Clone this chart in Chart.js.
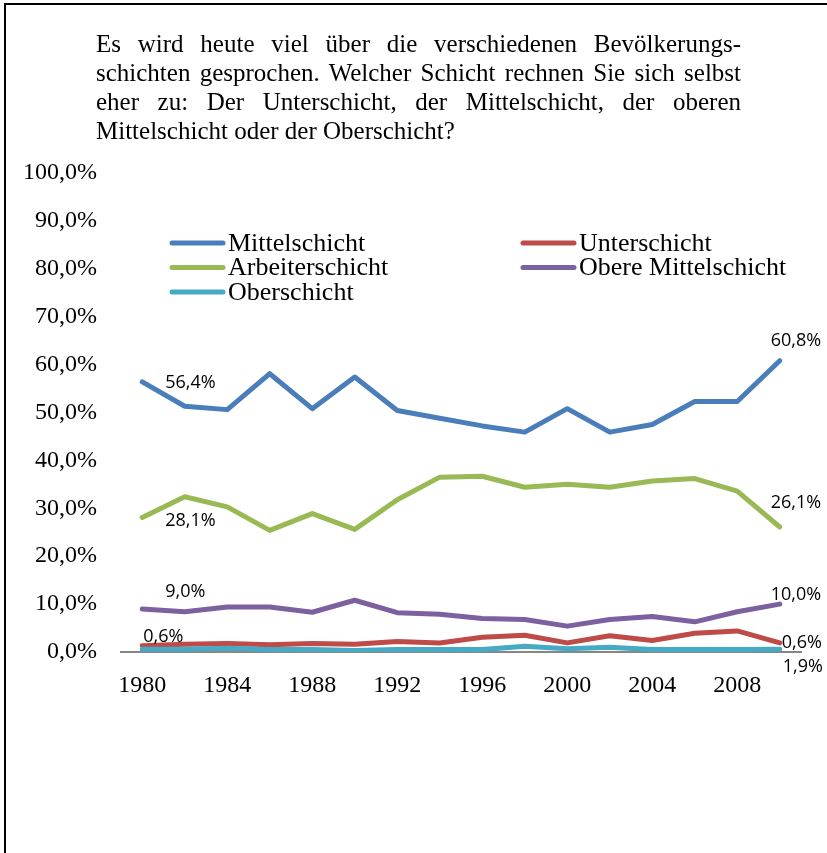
<!DOCTYPE html>
<html>
<head>
<meta charset="utf-8">
<script src="https://cdn.jsdelivr.net/npm/chart.js@4.4.1/dist/chart.umd.min.js"></script>
<style>
  html, body { margin: 0; padding: 0; background: #fff; }
  #page { position: relative; width: 827px; height: 853px; overflow: hidden; }
  #frame { position: absolute; left: 4px; top: 3px; width: 900px; height: 900px;
    border-top: 2px solid #000; border-left: 2px solid #000; pointer-events: none; }
  #title { position: absolute; left: 96px; top: 29px; width: 645px;
    font-family: 'Liberation Serif', 'Times New Roman', serif; font-size: 25px;
    line-height: 29px; color: #000; }
  #title div { white-space: nowrap; text-align: justify; text-align-last: justify; }
  #title div.last { text-align-last: left; }
  #wrap { position: absolute; left: 0; top: 0; width: 827px; height: 853px; }
</style>
</head>
<body>
<div id="page">
  <div id="wrap"><canvas id="chart"></canvas></div>
  <div id="title">
    <div>Es wird heute viel über die verschiedenen Bevölkerungs-</div>
    <div>schichten gesprochen. Welcher Schicht rechnen Sie sich selbst</div>
    <div>eher zu: Der Unterschicht, der Mittelschicht, der oberen</div>
    <div class="last">Mittelschicht oder der Oberschicht?</div>
  </div>
  <div id="frame"></div>
</div>
<script>
// years of the survey
const years = ['1980', '1982', '1984', '1986', '1988', '1990', '1992', '1994',
  '1996', '1998', '2000', '2002', '2004', '2006', '2008', '2010']

// shares in percent
const mittelschicht = [56.4, 51.3, 50.6, 58.1, 50.8, 57.4, 50.4, 48.8, 47.2, 45.9, 50.8, 45.9, 47.5, 52.3, 52.3, 60.8]
const unterschicht = [1.3, 1.6, 1.8, 1.5, 1.8, 1.6, 2.2, 1.9, 3.1, 3.5, 1.9, 3.4, 2.4, 3.9, 4.4, 1.9]
const arbeiterschicht = [28.1, 32.4, 30.3, 25.4, 28.9, 25.6, 31.8, 36.5, 36.7, 34.4, 35.0, 34.4, 35.7, 36.2, 33.6, 26.1]
const obereMittelschicht = [9.0, 8.4, 9.4, 9.4, 8.3, 10.8, 8.2, 7.9, 7.0, 6.8, 5.4, 6.8, 7.4, 6.3, 8.4, 10.0]
const oberschicht = [0.6, 0.6, 0.8, 0.5, 0.5, 0.3, 0.5, 0.5, 0.5, 1.2, 0.7, 1.0, 0.5, 0.5, 0.5, 0.6]

const seriesNames = ['Mittelschicht', 'Unterschicht', 'Arbeiterschicht', 'Obere Mittelschicht', 'Oberschicht']
const seriesValues = [mittelschicht, unterschicht, arbeiterschicht, obereMittelschicht, oberschicht]
const seriesColors = ['#4A7EBB', '#BE4B48', '#98B954', '#7D60A0', '#46AAC5']

// y axis ticks
const yMin = 0
const yMax = 100
const yStep = 10

const fmt = (v) => v.toFixed(1).replace('.', ',') + '%'

// value labels at the first and last point: [dataset, index, dx, dy]
const valueLabels = [
  [0, 0, 23, 1], [2, 0, 23, 3], [3, 0, 23, -17], [4, 0, 1, -12],
  [0, 15, -9, -20], [2, 15, -9, -24], [3, 15, -9, -9],
  [4, 15, 2, -6], [1, 15, 3, 24],
]

const valueLabelPlugin = {
  id: 'valueLabels',
  afterDatasetsDraw(chart) {
    const ctx = chart.ctx
    ctx.save()
    ctx.font = '18px "Open Sans"'
    ctx.fillStyle = '#000'
    ctx.textAlign = 'left'
    ctx.textBaseline = 'middle'
    valueLabels.forEach(([ds, idx, dx, dy]) => {
      const pt = chart.getDatasetMeta(ds).data[idx]
      ctx.fillText(fmt(chart.data.datasets[ds].data[idx]), pt.x + dx, pt.y + dy)
    })
    ctx.restore()
  },
}

// two column legend inside the plot area
const gridLegendPlugin = {
  id: 'gridLegend',
  afterDraw(chart) {
    const ctx = chart.ctx
    const area = chart.chartArea
    const cols = [area.left + 49, area.left + 400]
    const rowTop = area.top + 71
    const rowGap = 24.5
    ctx.save()
    ctx.font = '26px "Liberation Serif"'
    ctx.textBaseline = 'middle'
    ctx.lineCap = 'round'
    ctx.lineWidth = 5
    chart.data.datasets.forEach((ds, i) => {
      const x = cols[i % 2]
      const y = rowTop + Math.floor(i / 2) * rowGap
      ctx.strokeStyle = ds.borderColor
      ctx.beginPath()
      ctx.moveTo(x + 2, y - 1)
      ctx.lineTo(x + 53, y - 1)
      ctx.stroke()
      ctx.fillStyle = '#000'
      ctx.fillText(ds.label, x + 58, y)
    })
    ctx.restore()
  },
}

const datasets = seriesNames.map((name, i) => ({
  label: name,
  data: seriesValues[i],
  borderColor: seriesColors[i],
  backgroundColor: seriesColors[i],
  borderWidth: 5,
  borderCapStyle: 'round',
  borderJoinStyle: 'round',
  pointRadius: 0,
  tension: 0,
  fill: false,
  order: seriesNames.length - i,
}))

new Chart(document.getElementById('chart'), {
  type: 'line',
  data: { labels: years, datasets },
  options: {
    responsive: true,
    maintainAspectRatio: false,
    animation: false,
    events: [],
    layout: { padding: { top: 173, left: 0, right: 26, bottom: 141 } },
    plugins: {
      legend: { display: false },
      tooltip: { enabled: false },
    },
    scales: {
      x: {
        offset: true,
        grid: { display: false, drawTicks: false },
        border: { display: true, color: '#868686', width: 2 },
        ticks: {
          autoSkip: false,
          maxRotation: 0,
          padding: 19,
          color: '#000',
          font: { family: 'Liberation Serif', size: 24 },
          callback: (v, i) => (i % 2 === 0 ? years[i] : ''),
        },
        afterFit: (scale) => { scale.height = 60 },
      },
      y: {
        min: yMin,
        max: yMax,
        grid: { display: false, drawTicks: false },
        border: { display: false },
        ticks: {
          stepSize: yStep,
          padding: 24,
          color: '#000',
          font: { family: 'Liberation Serif', size: 24 },
          callback: (v) => fmt(v),
        },
        afterFit: (scale) => { scale.width = 121 },
      },
    },
  },
  plugins: [valueLabelPlugin, gridLegendPlugin],
})
</script>
</body>
</html>
